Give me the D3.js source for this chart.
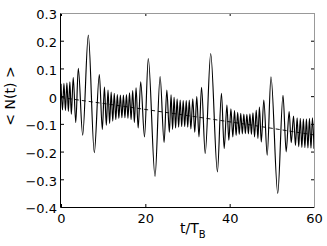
<!DOCTYPE html>
<html>
<head>
<meta charset="utf-8">
<script src="https://cdn.jsdelivr.net/npm/d3@7"></script>
<style>
    body { margin: 0; background: #fff; }
    text { font-family: "DejaVu Sans", sans-serif; }
</style>
</head>
<body>
<div id="chart"></div>
<script>
// tick labels
var xTicks = [0, 20, 40, 60];
var yTicks = [0.3, 0.2, 0.1, 0, -0.1, -0.2, -0.3, -0.4];

// turning points (peaks / troughs) of <N(t)>
var extT = [0, 0.35, 0.7, 1.05, 1.4, 1.75, 2.1, 2.45, 2.9, 3.5, 4.1, 5.14, 6.48, 7.9, 9.09, 9.8,
    10.3, 10.75, 11.15, 11.53, 11.9, 12.27, 12.63, 13.0, 13.36, 13.72, 14.08, 14.44, 14.8, 15.16,
    15.52, 15.88, 16.25, 16.62, 17.0, 17.4, 17.8, 18.3, 18.9, 19.8, 20.7, 22.3, 23.5, 24.45, 25.1,
    25.7, 26.1, 26.46, 26.82, 27.18, 27.54, 27.9, 28.26, 28.62, 28.98, 29.34, 29.7, 30.06, 30.42,
    30.8, 31.25, 31.72, 32.2, 32.72, 33.33, 34.2, 35.5, 37.1, 38.05, 38.7, 39.35, 39.8, 40.3, 40.75,
    41.15, 41.53, 41.9, 42.27, 42.63, 43.0, 43.36, 43.72, 44.08, 44.44, 44.8, 45.16, 45.52, 45.9,
    46.3, 46.7, 47.05, 47.5, 48.1, 48.9, 49.8, 51.4, 52.65, 53.4, 54.1, 54.6, 55.15, 55.6, 56.0,
    56.38, 56.75, 57.12, 57.48, 57.84, 58.2, 58.56, 58.92, 59.28, 59.64, 60.0];
var extV = [0.045, -0.05, 0.046, -0.052, 0.048, -0.055, 0.052, -0.065, 0.067, -0.095, 0.10, -0.141, 0.22, -0.204, 0.078, -0.12,
    0.033, -0.105, 0.022, -0.098, 0.015, -0.09, 0.01, -0.085, 0.006, -0.08, 0.004, -0.078, 0.004, -0.078,
    0.006, -0.08, 0.012, -0.085, 0.02, -0.095, 0.03, -0.115, 0.052, -0.147, 0.136, -0.29, 0.071, -0.167, 0.022,
    -0.13, 0.005, -0.12, -0.004, -0.115, -0.01, -0.112, -0.014, -0.11, -0.016, -0.11, -0.016, -0.112, -0.014,
    -0.118, -0.01, -0.13, -0.002, -0.147, 0.032, -0.207, 0.154, -0.273, 0.01, -0.189, -0.032, -0.159, -0.046, -0.147,
    -0.052, -0.142, -0.058, -0.138, -0.062, -0.136, -0.065, -0.135, -0.066, -0.136, -0.064, -0.138, -0.06, -0.147,
    -0.05, -0.153, -0.039, -0.165, -0.014, -0.213, 0.07, -0.351, 0.003, -0.201, -0.056, -0.168, -0.072, -0.178, -0.078,
    -0.183, -0.08, -0.185, -0.082, -0.186, -0.082, -0.187, -0.08, -0.188, -0.078, -0.19];

// dashed trend line
var trendT = [0, 15, 30, 45, 60];
var trendV = [-0.005, -0.037, -0.07, -0.104, -0.14];

var margin = {top: 13, right: 13, bottom: 39, left: 61},
    width = 327 - margin.left - margin.right,
    height = 246 - margin.top - margin.bottom;

var x = d3.scaleLinear().domain([0, 60]).range([0, width]);
var y = d3.scaleLinear().domain([-0.4, 0.3]).range([height, 0]);

var svg = d3.select("#chart").append("svg")
    .attr("width", 327)
    .attr("height", 246)
    .append("g")
    .attr("transform", "translate(" + margin.left + "," + margin.top + ")");

var fmt = function(d) { return d === 0 ? "0" : d3.format(".1f")(d).replace("-", "\u2212"); };

var xAxis = d3.axisBottom(x).tickValues(xTicks).tickFormat(d3.format("d"))
    .tickSizeInner(-3).tickSizeOuter(0).tickPadding(7);
var yAxis = d3.axisLeft(y).tickValues(yTicks).tickFormat(fmt)
    .tickSizeInner(-3).tickSizeOuter(0).tickPadding(4);

var gx = svg.append("g")
    .attr("transform", "translate(0," + height + ")")
    .call(xAxis);
var gy = svg.append("g").call(yAxis);

svg.append("g").call(d3.axisTop(x).tickValues(xTicks).tickFormat("").tickSizeInner(-3).tickSizeOuter(0));
svg.append("g").attr("transform", "translate(" + width + ",0)")
    .call(d3.axisRight(y).tickValues(yTicks).tickFormat("").tickSizeInner(-3).tickSizeOuter(0));

svg.selectAll(".domain").remove();
svg.selectAll(".tick line").attr("stroke", "#000");
svg.selectAll(".tick text").attr("font-size", 13).attr("fill", "#000")
    .attr("font-family", "DejaVu Sans, sans-serif");
gy.selectAll(".tick text").attr("dy", "0.45em");

// series
var pts = extT.map(function(t, i) { return [t, extV[i]]; });
var line = d3.line()
    .x(function(d) { return x(d[0]); })
    .y(function(d) { return y(d[1]); })
    .curve(d3.curveMonotoneX);

svg.append("path")
    .attr("d", line(pts))
    .attr("fill", "none")
    .attr("stroke", "#000")
    .attr("stroke-width", 1.15);

var trend = trendT.map(function(t, i) { return [t, trendV[i]]; });
svg.append("path")
    .attr("d", d3.line().x(function(d) { return x(d[0]); }).y(function(d) { return y(d[1]); })(trend))
    .attr("fill", "none")
    .attr("stroke", "#000")
    .attr("stroke-width", 0.9)
    .attr("stroke-dasharray", "4,3");

// box: left/bottom black, top/right grey as in the original
svg.append("line").attr("x1", -0.5).attr("x2", -0.5).attr("y1", 0).attr("y2", height + 0.5).attr("stroke", "#000");
svg.append("line").attr("x1", -0.5).attr("x2", width).attr("y1", height + 0.5).attr("y2", height + 0.5).attr("stroke", "#000");
svg.append("line").attr("x1", -0.5).attr("x2", width + 0.5).attr("y1", 0.5).attr("y2", 0.5).attr("stroke", "#999");
svg.append("line").attr("x1", width + 0.5).attr("x2", width + 0.5).attr("y1", 0).attr("y2", height + 1).attr("stroke", "#999");

// axis titles
var xl = svg.append("text")
    .attr("x", 119)
    .attr("y", 220)
    .attr("font-size", 14)
    .attr("fill", "#000");
xl.append("tspan").text("t/T");
xl.append("tspan").attr("font-size", 10).attr("dy", 5).text("B");

svg.append("text")
    .attr("transform", "translate(" + (15 - margin.left) + "," + (96 - margin.top) + ") rotate(-90)")
    .attr("text-anchor", "middle")
    .attr("font-size", 14)
    .attr("fill", "#000")
    .text("< N(t) >");
</script>
</body>
</html>
